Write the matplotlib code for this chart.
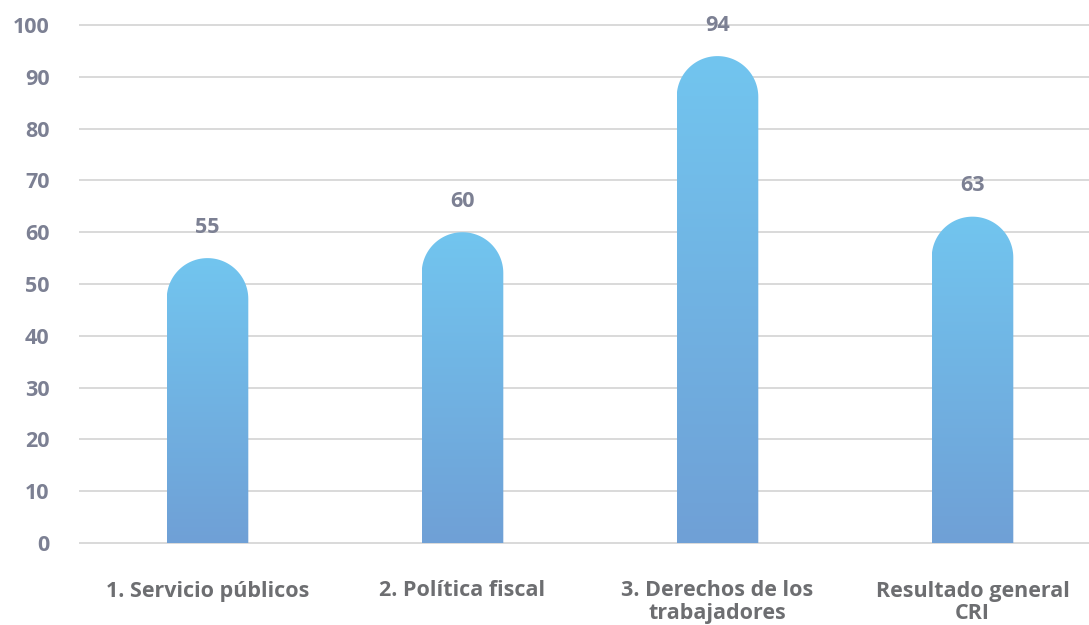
import numpy as np
import matplotlib.pyplot as plt
from matplotlib.patches import PathPatch
from matplotlib.path import Path
from matplotlib.colors import LinearSegmentedColormap

# data
categories = ["1. Servicio públicos", "2. Política fiscal",
              "3. Derechos de los\ntrabajadores", "Resultado general\nCRI"]
values = [55, 60, 94, 63]
yticks = [0, 10, 20, 30, 40, 50, 60, 70, 80, 90, 100]

W, H = 1089, 625
fig = plt.figure(figsize=(W / 100, H / 100), dpi=100)
ax = fig.add_axes([80 / W, 82 / H, 1020 / W, 518 / H])
ax.set_xlim(-0.5, 3.5)
ax.set_ylim(0, 100)

font = "Open Sans"
tick_col = "#7C8093"
lab_col = "#6D6E71"
fs = 15.5

# grid lines
for t in yticks:
    ax.axhline(t, color="#D9D9D9", lw=1.4, zorder=0, clip_on=False)

for s in ax.spines.values():
    s.set_visible(False)
ax.set_yticks(yticks)
ax.set_yticklabels([str(t) for t in yticks], fontfamily=font, fontweight="bold",
                   fontsize=fs, color=tick_col)
ax.tick_params(axis="y", length=0, pad=22)
ax.set_xticks(range(len(categories)))
ax.set_xticklabels(categories, fontfamily=font, fontweight="bold",
                   fontsize=fs, color=lab_col, linespacing=1.12, va="top")
ax.tick_params(axis="x", length=0, pad=27)

cmap = LinearSegmentedColormap.from_list("bar", ["#6FA0D6", "#72C5EF"])
grad = np.linspace(0, 1, 256).reshape(-1, 1)

bw = 0.32
# vertical radius of the rounded top in data units
px_x = 1020 / 4.0
px_y = 518 / 100.0
ry = (bw / 2 * px_x) / px_y

for i, v in enumerate(values):
    t = np.linspace(0, np.pi, 60)
    xs = np.concatenate([[i + bw / 2], i + bw / 2 * np.cos(t), [i - bw / 2]])
    ys = np.concatenate([[0], (v - ry) + ry * np.sin(t), [0]])
    verts = np.column_stack([xs, ys])
    path = Path(np.vstack([verts, verts[:1]]))
    patch = PathPatch(path, facecolor="none", edgecolor="none")
    ax.add_patch(patch)
    im = ax.imshow(grad, cmap=cmap, aspect="auto", origin="lower",
                   extent=[i - bw / 2, i + bw / 2, 0, v], zorder=2)
    im.set_clip_path(patch)
    ax.annotate(str(v), (i, v), xytext=(0, 31), textcoords="offset pixels",
                ha="center", va="center", fontfamily=font, fontweight="bold",
                fontsize=fs, color=tick_col)

ax.set_xlim(-0.5, 3.5)
ax.set_ylim(0, 100)
fig.savefig("out.png", dpi=100)
